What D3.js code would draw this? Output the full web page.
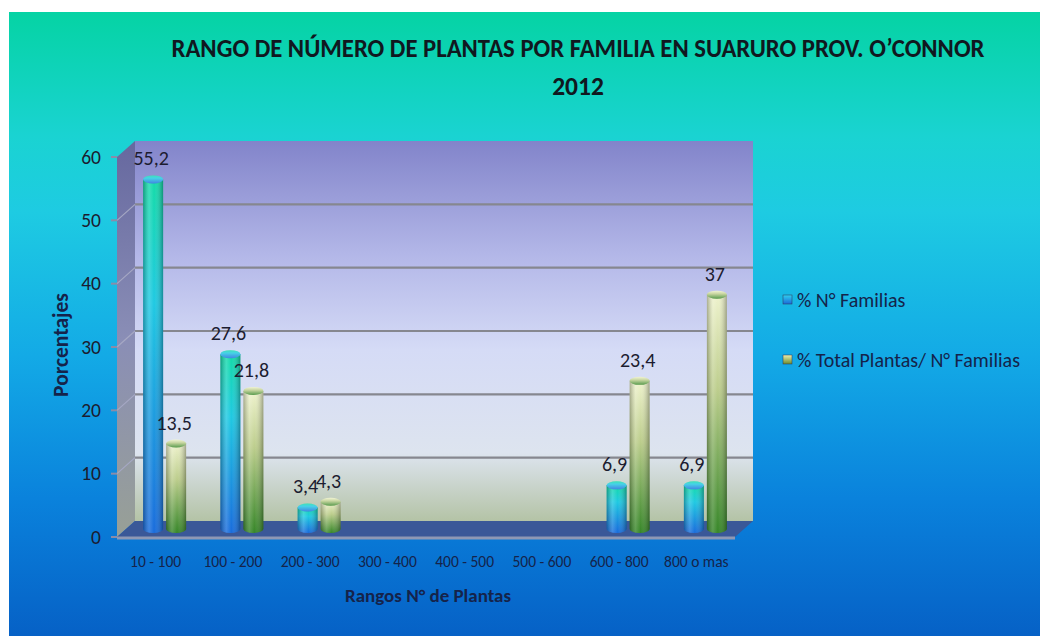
<!DOCTYPE html>
<html>
<head>
<meta charset="utf-8">
<script src="https://cdn.jsdelivr.net/npm/d3@7/dist/d3.min.js"></script>
<style>
    body { margin: 0; background: #fff; }
    svg text { font-family: Carlito, Lato, 'Open Sans', sans-serif; }
</style>
</head>
<body>
<div id="chart"></div>
<script>
// Data
const categories = ['10 - 100', '100 - 200', '200 - 300', '300 - 400', '400 - 500', '500 - 600', '600 - 800', '800 o mas'];
const familias = [55.2, 27.6, 3.4, null, null, null, 6.9, 6.9];
const plantas = [13.5, 21.8, 4.3, null, null, null, 23.4, 37];
const seriesNames = ['% N° Familias', '% Total Plantas/ N° Familias'];
const yTicks = [0, 10, 20, 30, 40, 50, 60];

const W = 1040, H = 636;
// depth offset of the 3D box (back wall -> front edge)
const dx = -18, dy = 16;

const svg = d3.select('#chart').append('svg')
    .attr('width', W).attr('height', H);

const defs = svg.append('defs');

function vGrad(id, stops) {
    const g = defs.append('linearGradient').attr('id', id)
        .attr('x1', 0).attr('y1', 0).attr('x2', 0).attr('y2', 1);
    stops.forEach(s => g.append('stop').attr('offset', s[0]).attr('stop-color', s[1]).attr('stop-opacity', s[2] == null ? 1 : s[2]));
    return g;
}
function hGrad(id, stops) {
    const g = defs.append('linearGradient').attr('id', id)
        .attr('x1', 0).attr('y1', 0).attr('x2', 1).attr('y2', 0);
    stops.forEach(s => g.append('stop').attr('offset', s[0]).attr('stop-color', s[1]).attr('stop-opacity', s[2] == null ? 1 : s[2]));
    return g;
}

vGrad('bg', [[0, '#05d3a4'], [0.2, '#1ad3d2'], [0.32, '#1ecbe2'], [0.55, '#13aae6'], [0.78, '#0a82dc'], [1, '#0661c6']]);
vGrad('wall', [[0, '#8284ca'], [0.3, '#b3b7e8'], [0.55, '#d5dbf6'], [0.82, '#dde4ef'], [1, '#b4c3a6']]);
vGrad('side', [[0, '#66689f'], [0.5, '#8a8eb6'], [1, '#98a096']]);
vGrad('blueV', [[0, '#14dba8'], [0.35, '#1fc9e2'], [1, '#196cdc']]);
vGrad('greenV', [[0, '#eef2cc'], [0.4, '#bccd8c'], [1, '#368628']]);
hGrad('shade', [[0, '#000', 0.28], [0.3, '#fff', 0.18], [0.55, '#fff', 0], [1, '#000', 0.32]]);

svg.append('rect').attr('x', 9).attr('y', 12).attr('width', W - 9).attr('height', H - 12)
    .attr('fill', 'url(#bg)');

// Scales in back-wall coordinates
const x = d3.scaleBand().domain(categories).range([135, 753]);
const y = d3.scaleLinear().domain([0, 60]).range([521, 141]);

const x0 = x.range()[0], x1 = x.range()[1];

// side wall
svg.append('polygon')
    .attr('points', [[x0, y(60)], [x0, y(0)], [x0 + dx, y(0) + dy], [x0 + dx, y(60) + dy]].join(' '))
    .attr('fill', 'url(#side)');

// back wall
svg.append('rect').attr('x', x0).attr('y', y(60)).attr('width', x1 - x0).attr('height', y(0) - y(60))
    .attr('fill', 'url(#wall)');

// gridlines on back wall and side wall
const grid = svg.append('g');
yTicks.filter(t => t > 0 && t < 60).forEach(t => {
    grid.append('line').attr('x1', x0).attr('x2', x1).attr('y1', y(t)).attr('y2', y(t))
        .attr('stroke', '#86878f').attr('stroke-width', 2.2);
    grid.append('line').attr('x1', x0).attr('x2', x0 + dx).attr('y1', y(t)).attr('y2', y(t) + dy)
        .attr('stroke', '#a6a8c4').attr('stroke-width', 1.2);
});

// floor
svg.append('polygon')
    .attr('points', [[x0, y(0)], [x1, y(0)], [x1 + dx, y(0) + dy], [x0 + dx, y(0) + dy]].join(' '))
    .attr('fill', '#3a5898');
svg.append('line').attr('x1', x0 + dx).attr('x2', x1 + dx).attr('y1', y(0) + dy + 1).attr('y2', y(0) + dy + 1)
    .attr('stroke', '#8e98b4').attr('stroke-width', 3);

// left axis ticks and labels (front edge)
const axis = svg.append('g');
yTicks.forEach(t => {
    const yy = y(t) + dy;
    axis.append('line').attr('x1', x0 + dx - 6).attr('x2', x0 + dx).attr('y1', yy).attr('y2', yy)
        .attr('stroke', '#8a8ca8').attr('stroke-width', 2);
    axis.append('text').attr('x', 101).attr('y', yy + 6.5).attr('text-anchor', 'end')
        .style('font-size', '19.5px').attr('fill', '#1c1c30').text(t);
});

// category labels
categories.forEach(c => {
    svg.append('text').attr('x', x(c) + x.bandwidth() / 2 + dx).attr('y', 567)
        .attr('text-anchor', 'middle').style('font-size', '15.5px').attr('fill', '#15234a').text(c);
});

// bars (cylinders) at mid depth
const barW = 20, gap = 3, ry = 4;
const bars = svg.append('g');
function cylinder(cx, v, grad) {
    const base = y(0) + dy / 2;
    const top = y(v) + dy / 2;
    const left = cx - barW / 2;
    const g = bars.append('g');
    const body = `M${left},${top} L${left},${base} A${barW / 2},${ry} 0 0 0 ${left + barW},${base} L${left + barW},${top} Z`;
    g.append('path').attr('d', body).attr('fill', `url(#${grad})`);
    g.append('path').attr('d', body).attr('fill', 'url(#shade)');
    g.append('ellipse').attr('cx', cx).attr('cy', top).attr('rx', barW / 2).attr('ry', ry)
        .attr('fill', `url(#${grad})`);
    g.append('ellipse').attr('cx', cx).attr('cy', top).attr('rx', barW / 2).attr('ry', ry)
        .attr('fill', '#fff').attr('fill-opacity', 0.18);
    return top;
}

categories.forEach((c, i) => {
    const center = x(c) + x.bandwidth() / 2 + dx / 2;
    const series = [[familias[i], 'blueV', center - gap / 2 - barW / 2], [plantas[i], 'greenV', center + gap / 2 + barW / 2]];
    series.forEach(s => {
        if (s[0] == null) return;
        const top = cylinder(s[2], s[0], s[1]);
        svg.append('text').attr('x', s[2] - 2).attr('y', top - 14).attr('text-anchor', 'middle')
            .style('font-size', '20px').attr('fill', '#1c1c30').text(String(s[0]).replace('.', ','));
    });
});

// axis titles
svg.append('text').attr('x', (x0 + x1) / 2 + dx + 2).attr('y', 602).attr('text-anchor', 'middle')
    .style('font-size', '19px').style('font-weight', 'bold').attr('fill', '#15234a').text('Rangos N° de Plantas');
svg.append('text').attr('transform', `translate(68,${(y(30) + dy - 2)}) rotate(-90)`).attr('text-anchor', 'middle')
    .style('font-size', '21.5px').style('font-weight', 'bold').attr('fill', '#15234a').text('Porcentajes');

// title
svg.append('text').attr('x', 578).attr('y', 57).attr('text-anchor', 'middle')
    .attr('textLength', 813).attr('lengthAdjust', 'spacingAndGlyphs')
    .style('font-size', '25.5px').style('font-weight', 'bold').attr('fill', '#101820')
    .text('RANGO DE NÚMERO DE PLANTAS POR FAMILIA EN SUARURO PROV. O’CONNOR');
svg.append('text').attr('x', 578).attr('y', 95).attr('text-anchor', 'middle')
    .style('font-size', '25.5px').style('font-weight', 'bold').attr('fill', '#101820').text('2012');

// legend
const legend = svg.append('g');
vGrad('legB', [[0, '#2fd0f0'], [1, '#1a6ad8']]);
vGrad('legG', [[0, '#eef0b0'], [1, '#6a8a2a']]);
seriesNames.forEach((n, i) => {
    const ly = 300 + i * 60;
    legend.append('rect').attr('x', 783).attr('y', ly - 5).attr('width', 9).attr('height', 9)
        .attr('fill', i === 0 ? 'url(#legB)' : 'url(#legG)').attr('stroke', '#335').attr('stroke-width', 0.5);
    legend.append('text').attr('x', 797).attr('y', ly + 7).style('font-size', '20px')
        .attr('fill', '#15234a').text(n);
});
</script>
</body>
</html>
